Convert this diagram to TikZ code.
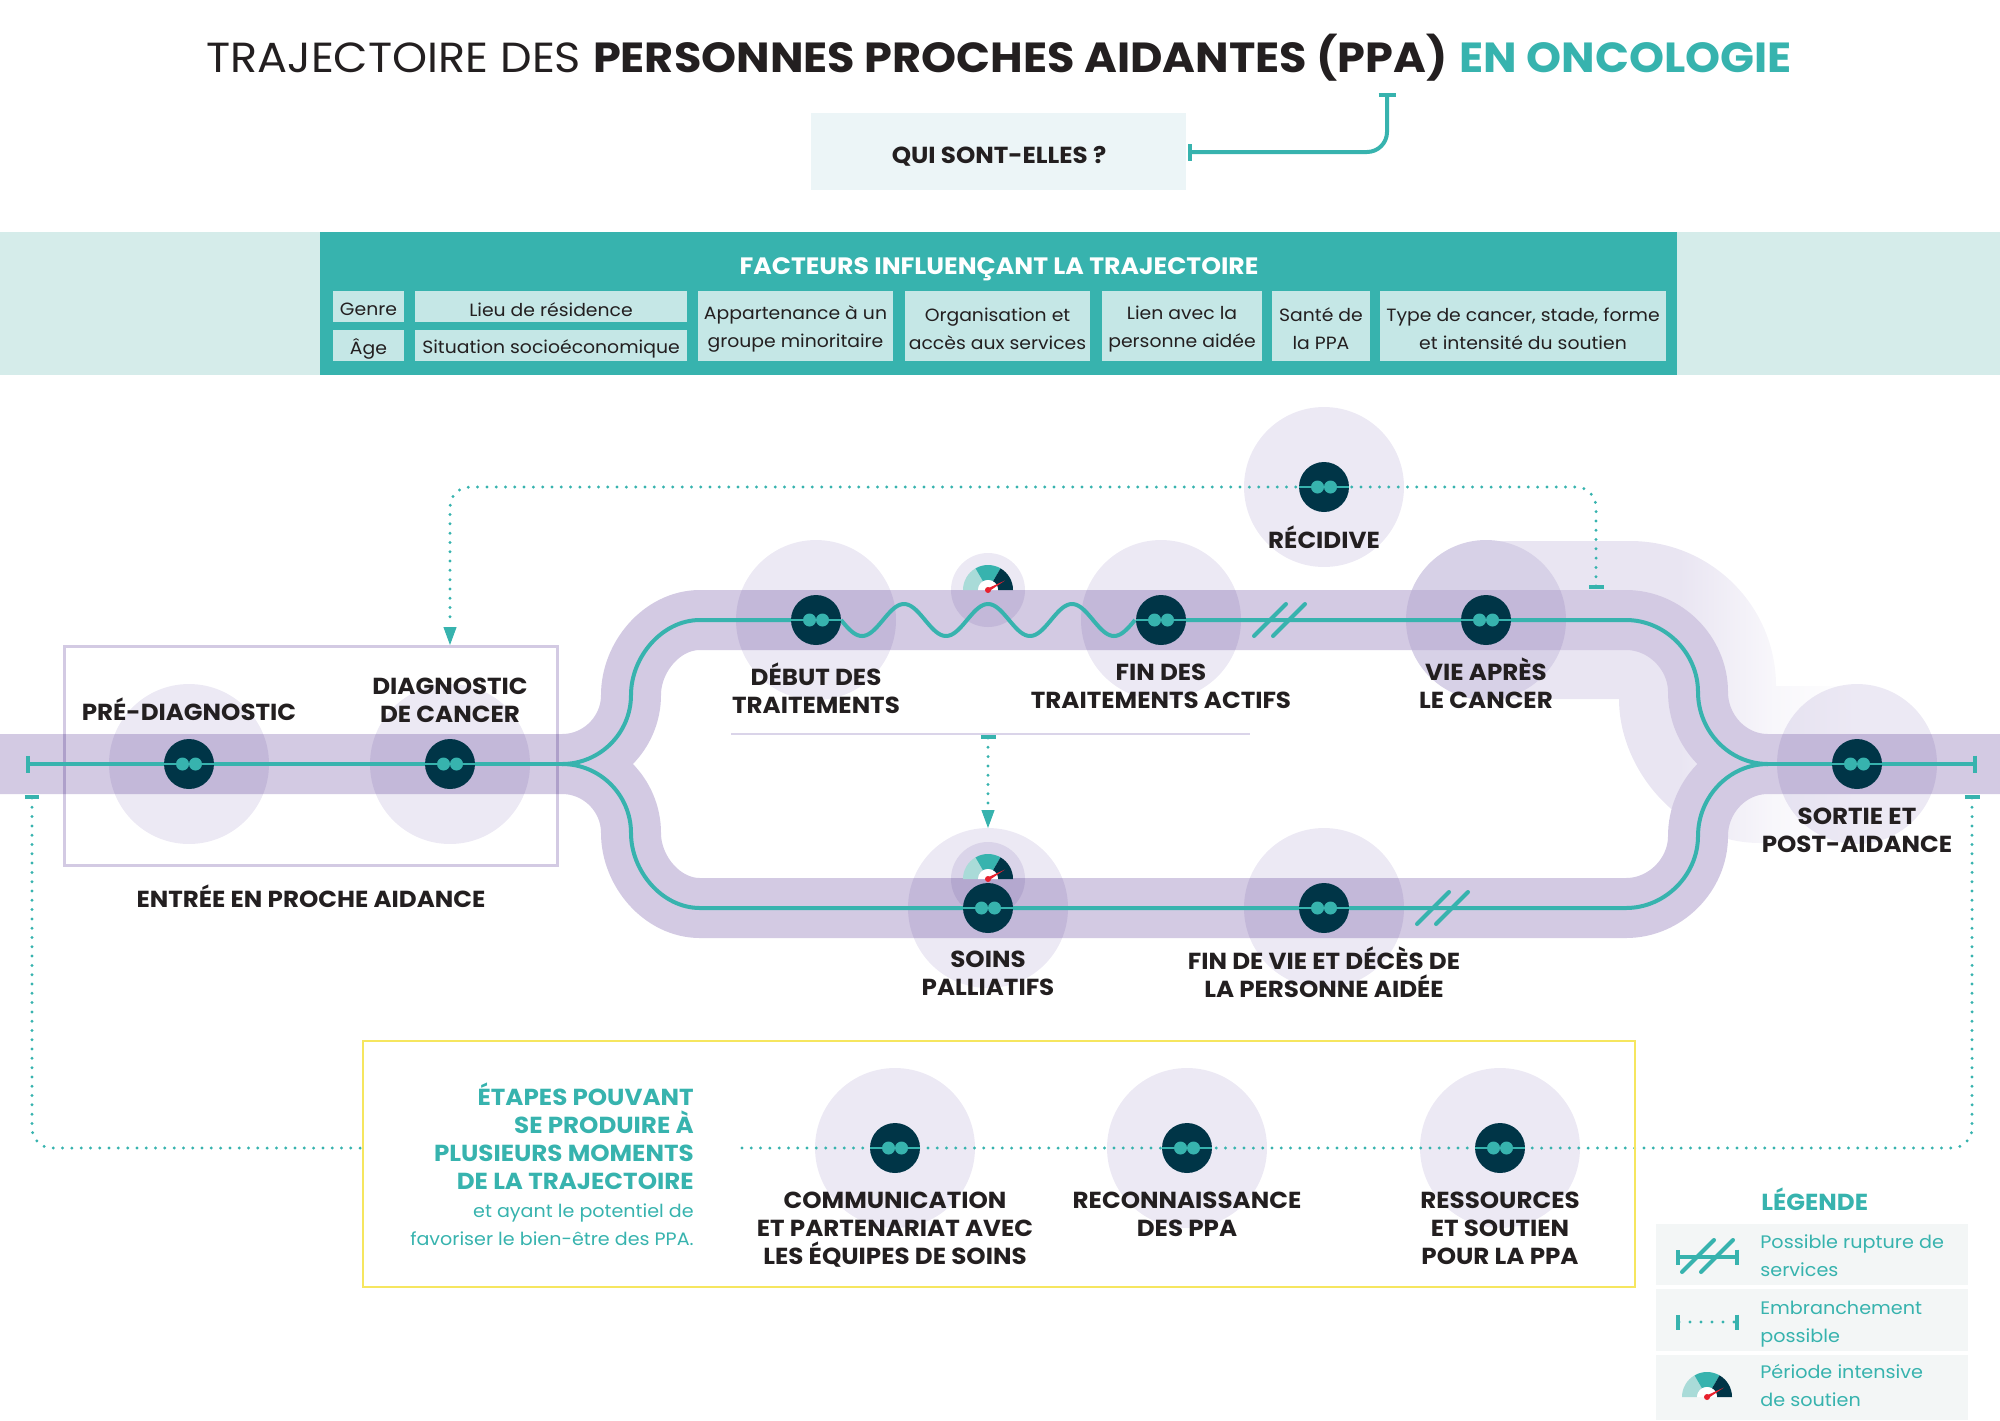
\documentclass[tikz,border=0pt]{standalone}
\usepackage{fontspec}
\setmainfont{Poppins}[FakeStretch=1.06]
\usetikzlibrary{positioning,arrows.meta}
\definecolor{tealc}{HTML}{37B3AE}
\definecolor{teallight}{HTML}{C5E7E6}
\definecolor{tealpale}{HTML}{D5ECEA}
\definecolor{tealgauge}{HTML}{A9DBD8}
\definecolor{nightc}{HTML}{003547}
\definecolor{inkc}{HTML}{231F20}
\definecolor{bandc}{HTML}{D3CAE3}
\definecolor{haloc}{HTML}{ECE9F4}
\definecolor{ghostc}{HTML}{E9E5F2}
\definecolor{ghostfade}{HTML}{F8F7FB}
\definecolor{boxpale}{HTML}{ECF5F7}
\definecolor{legendc}{HTML}{F3F6F6}
\definecolor{yellowc}{HTML}{F6E65F}
\definecolor{redc}{HTML}{E8212E}
\definecolor{rulec}{HTML}{DAD4E9}
\pgfdeclarehorizontalshading{ghostshade}{100bp}{color(0bp)=(ghostc); color(51bp)=(ghostc); color(64bp)=(ghostfade); color(75bp)=(white); color(100bp)=(white)}
\tikzset{
    band/.style={draw=bandc, line width=1.2cm},
    track/.style={draw=tealc, line width=0.08cm},
    endbar/.style={track, {Bar[width=0.34cm,line width=0.08cm]}-},
    bothbar/.style={track, {Bar[width=0.34cm,line width=0.08cm]}-{Bar[width=0.34cm,line width=0.08cm]}},
    dotline/.style={draw=tealc, line width=0.065cm, line cap=round, dash pattern=on 0pt off 0.186cm},
    dotbar/.style={dotline, {Bar[width=0.3cm,line width=0.08cm]}-},
    tip/.style={tealc, -{Triangle[width=0.26cm,length=0.36cm]}, line width=0.02cm},
    halo/.style={circle, fill=haloc, minimum size=3.2cm, inner sep=0pt},
    smallhalo/.style={circle, fill=haloc, minimum size=1.48cm, inner sep=0pt},
    stage/.style={circle, fill=nightc, minimum size=1cm, inner sep=0pt, path picture={
        \draw[tealc, line width=0.05cm] ([xshift=-0.5cm]path picture bounding box.center) -- ([xshift=0.5cm]path picture bounding box.center);
        \fill[tealc] ([xshift=-0.13cm]path picture bounding box.center) circle (0.13cm);
        \fill[tealc] ([xshift=0.13cm]path picture bounding box.center) circle (0.13cm);
    }},
    stagetext/.style={align=center, text=inkc, inner sep=0pt, font=\fontsize{13.2}{15.9}\selectfont\bfseries},
    factorbox/.style={fill=teallight, inner sep=0pt},
    factortext/.style={text=inkc, inner sep=0pt, align=center, font=\fontsize{10.1}{15.9}\selectfont},
    legendrow/.style={fill=legendc, inner sep=0pt, minimum width=6.24cm},
    legendtext/.style={anchor=west, align=left, text=tealc, inner sep=0pt, font=\fontsize{10.3}{15.9}\selectfont},
    gauge/.pic={
        \begin{scope}[yscale=-1]
            \fill[tealgauge] (180:25) arc[start angle=180, end angle=120, radius=25] -- (120:10) arc[start angle=120, end angle=180, radius=10] -- cycle;
            \fill[tealc] (120:25) arc[start angle=120, end angle=60, radius=25] -- (60:10) arc[start angle=60, end angle=120, radius=10] -- cycle;
            \fill[nightc] (60:25) arc[start angle=60, end angle=0, radius=25] -- (0:10) arc[start angle=0, end angle=60, radius=10] -- cycle;
            \fill[white] (10,0) arc[start angle=0, end angle=180, radius=10] -- cycle;
            \fill[redc] (-0.7,1.4) -- (17,9.5) -- (0.8,-1.4) -- cycle;
            \fill[redc] (0,0) circle (3);
        \end{scope}
    },
    rupture/.pic={
        \draw[track, line cap=round] (-25.5,16) -- (6.5,-16);
        \draw[track, line cap=round] (-6.5,16) -- (25.5,-16);
    },
}
\begin{document}
\begin{tikzpicture}[x=0.02cm, y=-0.02cm]
    \useasboundingbox (0,0) rectangle (2000,1420);

    % title
    \node[text=inkc, inner sep=0pt, font=\fontsize{23.95}{26}\selectfont] (title) at (999,58)
        {TRAJECTOIRE DES \textbf{PERSONNES PROCHES AIDANTES (PPA)} \textcolor{tealc}{\textbf{EN ONCOLOGIE}}};
    \node[fill=boxpale, minimum width=7.5cm, minimum height=1.54cm, inner sep=0pt] (qui) at (998.5,151.5) {};
    \node[stagetext] (quitext) at (999,156) {QUI SONT-ELLES ?};
    \coordinate (quitop) at (1387,93);
    \coordinate (quiside) at (1188,152);
    \draw[bothbar, rounded corners=0.4cm] (quitop) |- (quiside);

    % facteurs
    \fill[tealpale] (0,232) rectangle (2000,375);
    \fill[tealc] (320,232) rectangle (1677,375);
    \node[text=white, inner sep=0pt, font=\fontsize{13.5}{15.9}\selectfont\bfseries] (facteurs) at (999,269) {FACTEURS INFLUENÇANT LA TRAJECTOIRE};
    \foreach \name/\xa/\xb/\ya/\yb/\txt in {genre/333/404/291/322/Genre, age/333/404/330/361/Âge,
        lieu/415/687/291/322/Lieu de résidence, situation/415/687/330/361/Situation socioéconomique,
        appart/698/893/291/361/{Appartenance à un\\groupe minoritaire},
        orga/905/1090/291/361/{Organisation et\\accès aux services},
        lien/1102/1262/291/361/{Lien avec la\\personne aidée},
        sante/1272/1370/291/361/{Santé de\\la PPA},
        typec/1380/1666/291/361/{Type de cancer, stade, forme\\et intensité du soutien}}{
        \node[factorbox, minimum width={(\xb-\xa)*0.02cm}, minimum height={(\yb-\ya)*0.02cm}] (\name) at ({(\xa+\xb)/2},{(\ya+\yb)/2}) {};
        \node[factortext] (t\name) at ([yshift=-0.06cm]\name.center) {\txt};
    }

    % zone fantome et voies
    \shade[shading=ghostshade]
        (1488,541) -- (1630,541) .. controls (1711,541) and (1776,606) .. (1776,686) -- (1855,686)
        -- (1855,843) -- (1760,843) .. controls (1680,843) and (1619,770) .. (1619,699) -- (1488,699) -- cycle;
    \fill[ghostc] (1486,620) circle (80);

    \coordinate (forkL) at (562,764);
    \coordinate (forkR) at (1768,764);
    \coordinate (upL) at (700,620);
    \coordinate (upR) at (1626,620);
    \coordinate (lowL) at (700,908);
    \coordinate (lowR) at (1626,908);
    \coordinate (startL) at (26,764);
    \coordinate (endR) at (1977,764);
    \path[band]
        (0,764) -- (forkL) .. controls (600,764) and (631,733) .. (631,695) .. controls (631,657) and (662,620) .. (upL)
        -- (upR) .. controls (1665,620) and (1698,653) .. (1698,692) .. controls (1698,731) and (1729,764) .. (forkR)
        -- (2000,764)
        (forkL) .. controls (600,764) and (631,795) .. (631,833) .. controls (631,871) and (662,908) .. (lowL)
        -- (lowR) .. controls (1665,908) and (1698,875) .. (1698,836) .. controls (1698,797) and (1729,764) .. (forkR);

    % halos
    \begin{scope}[blend mode=multiply]
        \foreach \name/\x/\y in {prediag/189/764, diag/450/764, debut/816/620, finactifs/1161/620,
            vieapres/1486/620, recidive/1324/487, sortie/1857/764, soins/988/908, findevie/1324/908,
            commu/895/1148, recon/1187/1148, ressources/1500/1148}
            \node[halo] (halo\name) at (\x,\y) {};
        \node[smallhalo] (halogaugeA) at (988,590) {};
        \node[smallhalo] (halogaugeB) at (988,879) {};
        \node[draw=bandc, line width=0.07cm, minimum width=9.86cm, minimum height=4.38cm, inner sep=0pt] (entree) at (311,756) {};
    \end{scope}
    \draw[draw=rulec, line width=0.03cm] (731,734) -- (1250,734);

    % noeuds
    \foreach \name/\x/\y in {prediag/189/764, diag/450/764, debut/816/620, finactifs/1161/620,
        vieapres/1486/620, recidive/1324/487, sortie/1857/764, soins/988/908, findevie/1324/908,
        commu/895/1148, recon/1187/1148, ressources/1500/1148}
        \coordinate (\name) at (\x,\y);

    % voie principale
    \draw[endbar] (startL) -- (forkL);
    \draw[track] (forkL) .. controls (600,764) and (631,733) .. (631,695) .. controls (631,657) and (662,620) .. (upL) -- (debut);
    \draw[track] plot[domain=841:1135, samples=140] (\x,{620-16*cos(4.2857*(\x-988))});
    \draw[track] (finactifs) -- (upR) .. controls (1665,620) and (1698,653) .. (1698,692) .. controls (1698,731) and (1729,764) .. (forkR);
    \draw[track] (forkL) .. controls (600,764) and (631,795) .. (631,833) .. controls (631,871) and (662,908) .. (lowL) -- (lowR)
        .. controls (1665,908) and (1698,875) .. (1698,836) .. controls (1698,797) and (1729,764) .. (forkR);
    \draw[track, -{Bar[width=0.34cm,line width=0.08cm]}] (forkR) -- (endR);
    \pic at (1279.5,620) {rupture};
    \pic at (1442.5,908) {rupture};

    % embranchements
    \coordinate (recbar) at (1596,589);
    \coordinate (diagdot) at (450,625);
    \coordinate (diagtop) at (450,627);
    \coordinate (diagin) at (450,645);
    \coordinate (soinsbar) at (988,735);
    \coordinate (soinsdot) at (988,808);
    \coordinate (soinstop) at (988,810);
    \coordinate (soinsin) at (988,828);
    \coordinate (barL) at (32,795);
    \coordinate (barR) at (1972,795);
    \coordinate (boxL) at (365,1148);
    \coordinate (boxM) at (736,1148);
    \draw[dotbar, rounded corners=0.4cm] (recbar) |- (recidive) -| (diagdot);
    \draw[tip] (diagtop) -- (diagin);
    \draw[dotbar] (soinsbar) -- (soinsdot);
    \draw[tip] (soinstop) -- (soinsin);
    \draw[dotbar, rounded corners=0.4cm] (barL) |- (boxL);
    \draw[dotbar, rounded corners=0.4cm] (barR) |- (boxM);

    % pastilles
    \foreach \name/\x/\y in {prediag/189/764, diag/450/764, debut/816/620, finactifs/1161/620,
        vieapres/1486/620, recidive/1324/487, sortie/1857/764, soins/988/908, findevie/1324/908,
        commu/895/1148, recon/1187/1148, ressources/1500/1148}
        \node[stage] (node\name) at (\x,\y) {};
    \pic at (988,590) {gauge};
    \pic at (988,879) {gauge};

    % textes
    \node[stagetext] (tprediag) at (189,709) {PRÉ-DIAGNOSTIC};
    \node[stagetext] (tdiag) at (450,700) {DIAGNOSTIC\\DE CANCER};
    \node[stagetext] (tentree) at (311,896) {ENTRÉE EN PROCHE AIDANCE};
    \node[stagetext] (trecidive) at (1324,537.5) {RÉCIDIVE};
    \node[stagetext] (tdebut) at (816,688) {DÉBUT DES\\TRAITEMENTS};
    \node[stagetext] (tfin) at (1161,686) {FIN DES\\TRAITEMENTS ACTIFS};
    \node[stagetext] (tvie) at (1486,683) {VIE APRÈS\\LE CANCER};
    \node[stagetext] (tsortie) at (1857,830) {SORTIE ET\\POST-AIDANCE};
    \node[stagetext] (tsoins) at (988,973) {SOINS\\PALLIATIFS};
    \node[stagetext] (tfindevie) at (1324,972) {FIN DE VIE ET DÉCÈS DE\\LA PERSONNE AIDÉE};

    % encadre jaune
    \node[draw=yellowc, line width=0.03cm, minimum width=25.44cm, minimum height=4.92cm, inner sep=0pt] (etapes) at (999,1164) {};
    \node[stagetext] (tcommu) at (895,1230) {COMMUNICATION\\ET PARTENARIAT AVEC\\LES ÉQUIPES DE SOINS};
    \node[stagetext] (trecon) at (1187,1214) {RECONNAISSANCE\\DES PPA};
    \node[stagetext] (tressources) at (1500,1228) {RESSOURCES\\ET SOUTIEN\\POUR LA PPA};
    \node[stagetext, anchor=east, align=right, text=tealc] (tetapes) at (694,1136) {ÉTAPES POUVANT\\SE PRODUIRE À\\PLUSIEURS MOMENTS\\DE LA TRAJECTOIRE};
    \node[anchor=east, align=right, text=tealc, inner sep=0pt, font=\fontsize{10.25}{15.9}\selectfont] (tpotentiel) at (694,1225) {et ayant le potentiel de\\favoriser le bien-être des PPA.};

    % legende
    \node[anchor=west, text=tealc, inner sep=0pt, font=\fontsize{13.2}{15.9}\selectfont\bfseries] (tlegende) at (1761,1199) {LÉGENDE};
    \node[legendrow, minimum height=1.22cm] (rowA) at (1812,1254.5) {};
    \node[legendrow, minimum height=1.24cm] (rowB) at (1812,1320) {};
    \node[legendrow, minimum height=1.3cm] (rowC) at (1812,1387.5) {};
    \node[legendtext] (tlegA) at (1760,1255.5) {Possible rupture de\\services};
    \node[legendtext] (tlegB) at (1760,1324.5) {Embranchement\\possible};
    \node[legendtext] (tlegC) at (1760,1385.5) {Période intensive\\de soutien};
    \coordinate (legAa) at (1676,1257);
    \coordinate (legAb) at (1739,1257);
    \coordinate (legBa) at (1676,1322);
    \coordinate (legBb) at (1739,1322);
    \draw[track, {Bar[width=0.3cm,line width=0.08cm]}-{Bar[width=0.3cm,line width=0.08cm]}] (legAa) -- (legAb);
    \pic at (1707.5,1256) {rupture};
    \draw[dotline, dash pattern=on 0pt off 0.22cm, {Bar[width=0.3cm,line width=0.08cm]}-{Bar[width=0.3cm,line width=0.08cm]}] (legBa) -- (legBb);
    \pic at (1707,1397) {gauge};
\end{tikzpicture}
\end{document}
